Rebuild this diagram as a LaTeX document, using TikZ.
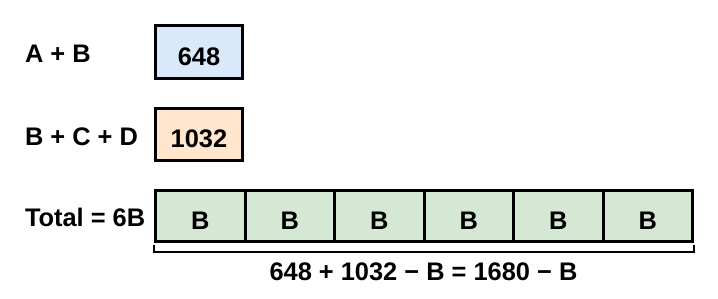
\documentclass[tikz,border=0pt]{standalone}
\usepackage{fontspec}
\setmainfont{Liberation Sans}
\definecolor{boxblue}{HTML}{DAE8FC}
\definecolor{boxorange}{HTML}{FFE6CC}
\definecolor{boxgreen}{HTML}{D5E8D4}
\begin{document}
\begin{tikzpicture}[x=1pt,y=-1pt,
  every node/.style={font=\fontsize{25.4}{30}\selectfont\bfseries, inner sep=0pt, outer sep=0pt},
  valbox/.style={draw=black, line width=3pt, minimum width=87pt, text height=26pt, text depth=0pt},
  cellbox/.style={draw=black, line width=3pt, fill=boxgreen, minimum width=89.5pt, minimum height=50.7pt, text height=28pt, text depth=0pt},
  lbl/.style={anchor=base west},
  brace/.style={draw=black, line width=2pt}]
\useasboundingbox (0,0) rectangle (718,298);
% row labels
\node[lbl] (la) at (25,62.7) {A + B};
\node[lbl] (lb) at (25,145.7) {B + C + D};
\node[lbl] (lc) at (25,226.7) {Total = 6B};
% value boxes
\node[valbox, fill=boxblue, minimum height=52.7pt] (v1) at (199,52.2) {648};
\node[valbox, fill=boxorange, minimum height=52pt] (v2) at (199,134.5) {1032};
% cells
\foreach \i in {0,...,5}{
  \node[cellbox] (c\i) at ({155.5+44.75+89.5*\i},215.9) {B};
}
% bracket
\coordinate (bl) at (154.3,245.3);
\coordinate (br) at (693.7,245.3);
\draw[brace] (bl) -- ++(0,6.5) -| (br);
\node[anchor=base] (tot) at (423.5,280) {648 + 1032 − B = 1680 − B};
\end{tikzpicture}
\end{document}
